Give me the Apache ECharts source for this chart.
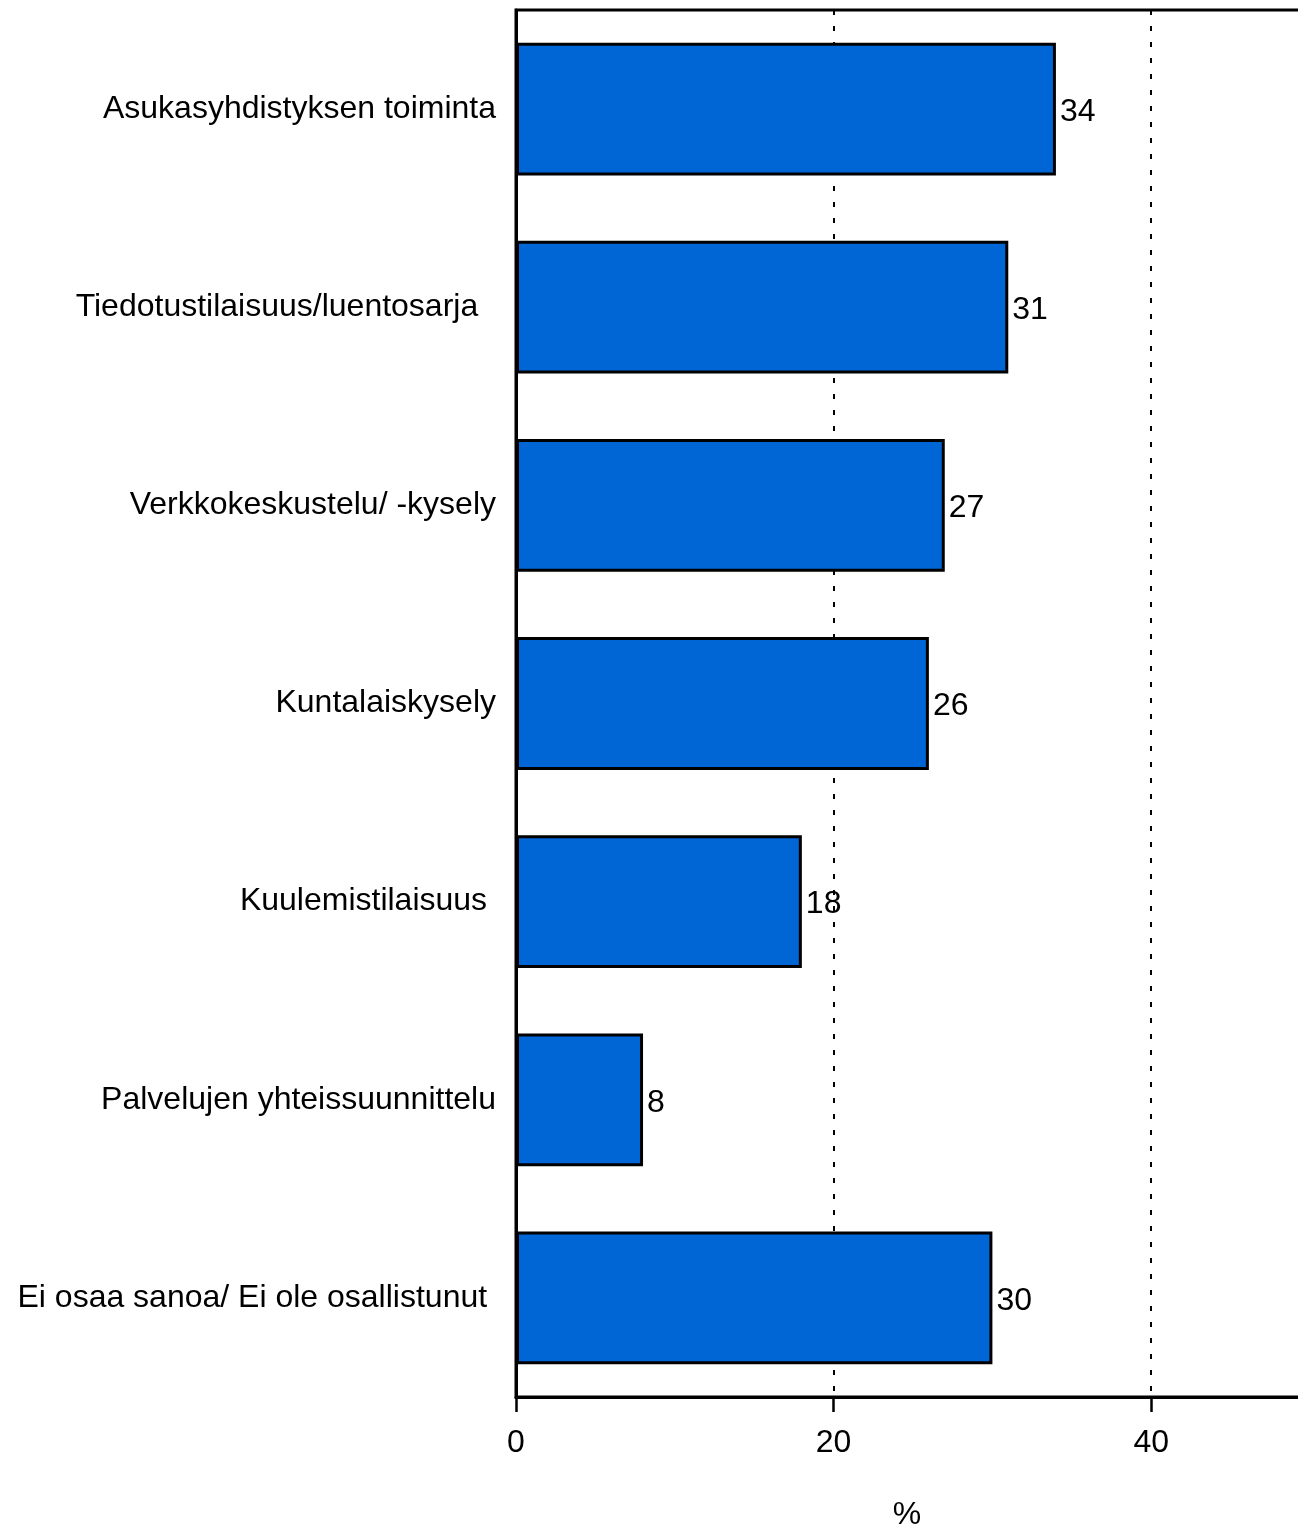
<!DOCTYPE html>
<html>
<head>
<meta charset="utf-8">
<script src="https://cdn.jsdelivr.net/npm/echarts@6/dist/echarts.min.js"></script>
<style>
html,body{margin:0;padding:0;background:#fff;}
#chart{width:1298px;height:1526px;}
</style>
</head>
<body>
<div id="chart"></div>
<script>
const categories = [
  'Asukasyhdistyksen toiminta',
  'Tiedotustilaisuus/luentosarja  ',
  'Verkkokeskustelu/ -kysely',
  'Kuntalaiskysely',
  'Kuulemistilaisuus ',
  'Palvelujen yhteissuunnittelu',
  'Ei osaa sanoa/ Ei ole osallistunut '
];
const values = [34, 31, 27, 26, 18, 8, 30];
const xTicks = [0, 20, 40];
const axisTitle = '%';

const FONT = '"Liberation Sans", Arial, sans-serif';
const chart = echarts.init(document.getElementById('chart'));
chart.setOption({
  backgroundColor: '#fff',
  animation: false,
  grid: {
    left: 516, top: 10, width: 794, height: 1387,
    containLabel: false, outerBoundsMode: 'none',
    show: true, borderColor: '#000', borderWidth: 3, backgroundColor: 'transparent'
  },
  xAxis: {
    type: 'value', min: 0, max: 50, interval: 20,
    name: axisTitle, nameLocation: 'middle', nameGap: 102,
    nameTextStyle: { fontFamily: FONT, fontSize: 32, color: '#000', padding: [0, 12, 0, 0] },
    axisLine: { show: true, lineStyle: { color: '#000', width: 3 } },
    axisTick: { show: true, length: 15, lineStyle: { color: '#000', width: 2.5 } },
    axisLabel: {
      fontFamily: FONT, fontSize: 32, color: '#000', margin: 30,
      showMaxLabel: false,
      formatter: v => (xTicks.indexOf(v) >= 0 ? String(v) : '')
    },
    splitLine: { show: true, lineStyle: { color: '#000', width: 2, type: [5, 11] } }
  },
  yAxis: {
    type: 'category', data: categories, inverse: true,
    axisLine: { show: true, onZero: false, lineStyle: { color: '#000', width: 3 } },
    axisTick: { show: false },
    axisLabel: { fontFamily: FONT, fontSize: 32, color: '#000', margin: 20, padding: [6, 0, 0, 0] },
    splitLine: { show: false }
  },
  series: [{
    type: 'bar',
    data: values,
    barCategoryGap: '33%',
    itemStyle: { color: '#0066D6', borderColor: '#000', borderWidth: 3 },
    label: {
      show: true, position: 'right', distance: 4, offset: [0, 3],
      fontFamily: FONT, fontSize: 32, color: '#000'
    }
  }]
});
</script>
</body>
</html>
